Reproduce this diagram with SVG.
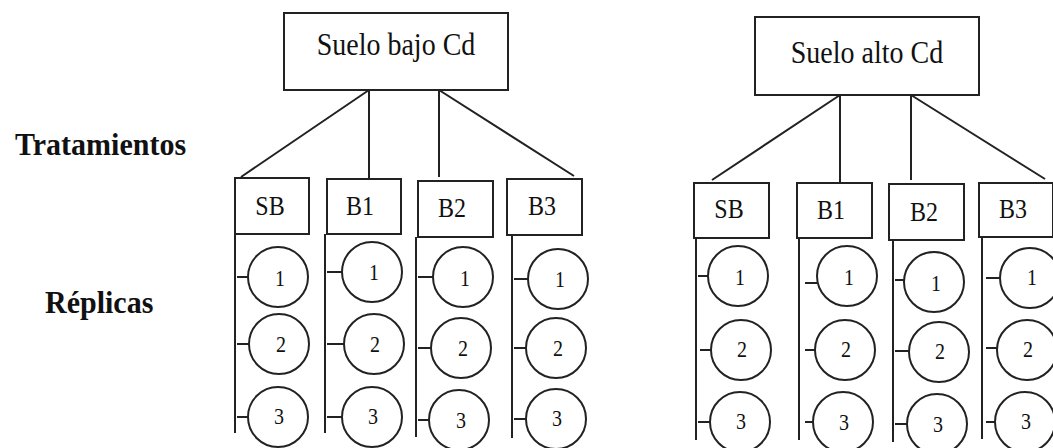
<svg xmlns="http://www.w3.org/2000/svg" width="1053" height="448" viewBox="0 0 1053 448">
<style>
  .box{fill:#fff;stroke:#222;stroke-width:2}
  .c{fill:#fff;stroke:#222;stroke-width:2}
  .ln{stroke:#222;stroke-width:2;fill:none}
  .t{font-family:"Liberation Serif","Times New Roman",serif;fill:#111;text-anchor:middle}
  .top{font-size:28px}
  .lab{font-size:24px}
  .num{font-size:20px}
  .hd{font-family:"Liberation Serif","Times New Roman",serif;font-weight:bold;font-size:30px;fill:#111}
</style>
<rect width="1053" height="448" fill="#fff"/>
<text class="hd" transform="translate(15,155) scale(1,1.08)">Tratamientos</text>
<text class="hd" transform="translate(45,313) scale(1,1.08)" font-size="31">Réplicas</text>

<g id="connectors">
  <path class="ln" d="M369,90 L241,177 M369,90 L369,179 M439,90 L439,177 M439,90 L574,176"/>
  <path class="ln" d="M840,95 L712,180 M840,95 L840,183 M911,93 L911,180 M911,95 L1045,179"/>
  <path class="ln" d="M235,234 V433 M325,234 V433 M416,237 V437 M512,235 V438"/>
  <path class="ln" d="M696,238 V440 M799,238 V440 M893,240 V442 M982,237 V439"/>
  <path class="ln" d="M237,277 H248 M237,344 H249 M237,417 H248"/>
  <path class="ln" d="M327,272 H342 M327,344 H344 M327,417 H342"/>
  <path class="ln" d="M418,277 H433 M418,348 H431 M418,420 H430"/>
  <path class="ln" d="M514,279 H528 M514,348 H526 M514,419 H526"/>
  <path class="ln" d="M698,276 H708 M700,350 H711 M698,422 H710"/>
  <path class="ln" d="M805,283 H817 M805,350 H815 M805,422 H813"/>
  <path class="ln" d="M895,280 H904 M895,351 H909 M895,424 H907"/>
  <path class="ln" d="M986,278 H1000 M986,348 H997 M986,422 H995"/>
</g>

<g id="root-bajo">
  <rect class="box" x="284" y="13" width="224" height="77"/>
  <text class="t top" transform="translate(396,55) scale(1,1.1)">Suelo bajo Cd</text>
</g>
<g id="root-alto">
  <rect class="box" x="755" y="17" width="224" height="78"/>
  <text class="t top" transform="translate(867,63) scale(1,1.1)">Suelo alto Cd</text>
</g>

<g id="L-SB"><rect class="box" x="235" y="178" width="74" height="56"/><text class="t lab" transform="translate(270,215) scale(1,1.15)">SB</text></g>
<g id="L-B1"><rect class="box" x="327" y="179" width="74" height="55"/><text class="t lab" transform="translate(360,215) scale(1,1.15)">B1</text></g>
<g id="L-B2"><rect class="box" x="418" y="181" width="75" height="56"/><text class="t lab" transform="translate(452,217) scale(1,1.15)">B2</text></g>
<g id="L-B3"><rect class="box" x="507" y="179" width="75" height="56"/><text class="t lab" transform="translate(542,215) scale(1,1.15)">B3</text></g>

<g id="R-SB"><rect class="box" x="694" y="183" width="75" height="55"/><text class="t lab" transform="translate(729,218) scale(1,1.15)">SB</text></g>
<g id="R-B1"><rect class="box" x="797" y="183" width="75" height="55"/><text class="t lab" transform="translate(831,219) scale(1,1.15)">B1</text></g>
<g id="R-B2"><rect class="box" x="889" y="184" width="75" height="56"/><text class="t lab" transform="translate(924,221) scale(1,1.15)">B2</text></g>
<g id="R-B3"><rect class="box" x="979" y="183" width="74" height="54"/><text class="t lab" transform="translate(1013,218) scale(1,1.15)">B3</text></g>

<g id="L-SB-1"><circle class="c" cx="278" cy="277" r="30"/><text class="t num" transform="translate(280,286) scale(1,1.2)">1</text></g>
<g id="L-SB-2"><circle class="c" cx="279" cy="344" r="30"/><text class="t num" transform="translate(281,352) scale(1,1.2)">2</text></g>
<g id="L-SB-3"><circle class="c" cx="278" cy="417" r="30"/><text class="t num" transform="translate(279,424) scale(1,1.2)">3</text></g>
<g id="L-B1-1"><circle class="c" cx="372" cy="272" r="30"/><text class="t num" transform="translate(374,280) scale(1,1.2)">1</text></g>
<g id="L-B1-2"><circle class="c" cx="374" cy="344" r="30"/><text class="t num" transform="translate(375,352) scale(1,1.2)">2</text></g>
<g id="L-B1-3"><circle class="c" cx="372" cy="417" r="30"/><text class="t num" transform="translate(373,424) scale(1,1.2)">3</text></g>
<g id="L-B2-1"><circle class="c" cx="463" cy="277" r="30"/><text class="t num" transform="translate(465,286) scale(1,1.2)">1</text></g>
<g id="L-B2-2"><circle class="c" cx="461" cy="348" r="30"/><text class="t num" transform="translate(463,356) scale(1,1.2)">2</text></g>
<g id="L-B2-3"><circle class="c" cx="459" cy="420" r="30"/><text class="t num" transform="translate(461,428) scale(1,1.2)">3</text></g>
<g id="L-B3-1"><circle class="c" cx="558" cy="279" r="30"/><text class="t num" transform="translate(560,287) scale(1,1.2)">1</text></g>
<g id="L-B3-2"><circle class="c" cx="556" cy="348" r="30"/><text class="t num" transform="translate(558,356) scale(1,1.2)">2</text></g>
<g id="L-B3-3"><circle class="c" cx="556" cy="419" r="30"/><text class="t num" transform="translate(557,426) scale(1,1.2)">3</text></g>

<g id="R-SB-1"><circle class="c" cx="738" cy="276" r="30"/><text class="t num" transform="translate(740,285) scale(1,1.2)">1</text></g>
<g id="R-SB-2"><circle class="c" cx="741" cy="350" r="30"/><text class="t num" transform="translate(742,357) scale(1,1.2)">2</text></g>
<g id="R-SB-3"><circle class="c" cx="740" cy="422" r="30"/><text class="t num" transform="translate(741,429) scale(1,1.2)">3</text></g>
<g id="R-B1-1"><circle class="c" cx="847" cy="276" r="30"/><text class="t num" transform="translate(849,285) scale(1,1.2)">1</text></g>
<g id="R-B1-2"><circle class="c" cx="845" cy="350" r="30"/><text class="t num" transform="translate(846,357) scale(1,1.2)">2</text></g>
<g id="R-B1-3"><circle class="c" cx="843" cy="422" r="30"/><text class="t num" transform="translate(844,430) scale(1,1.2)">3</text></g>
<g id="R-B2-1"><circle class="c" cx="934" cy="282" r="30"/><text class="t num" transform="translate(936,291) scale(1,1.2)">1</text></g>
<g id="R-B2-2"><circle class="c" cx="939" cy="352" r="30"/><text class="t num" transform="translate(940,359) scale(1,1.2)">2</text></g>
<g id="R-B2-3"><circle class="c" cx="937" cy="424" r="30"/><text class="t num" transform="translate(938,432) scale(1,1.2)">3</text></g>
<g id="R-B3-1"><circle class="c" cx="1030" cy="278" r="30"/><text class="t num" transform="translate(1032,285) scale(1,1.2)">1</text></g>
<g id="R-B3-2"><circle class="c" cx="1027" cy="350" r="30"/><text class="t num" transform="translate(1028,357) scale(1,1.2)">2</text></g>
<g id="R-B3-3"><circle class="c" cx="1025" cy="422" r="30"/><text class="t num" transform="translate(1026,429) scale(1,1.2)">3</text></g>
</svg>
